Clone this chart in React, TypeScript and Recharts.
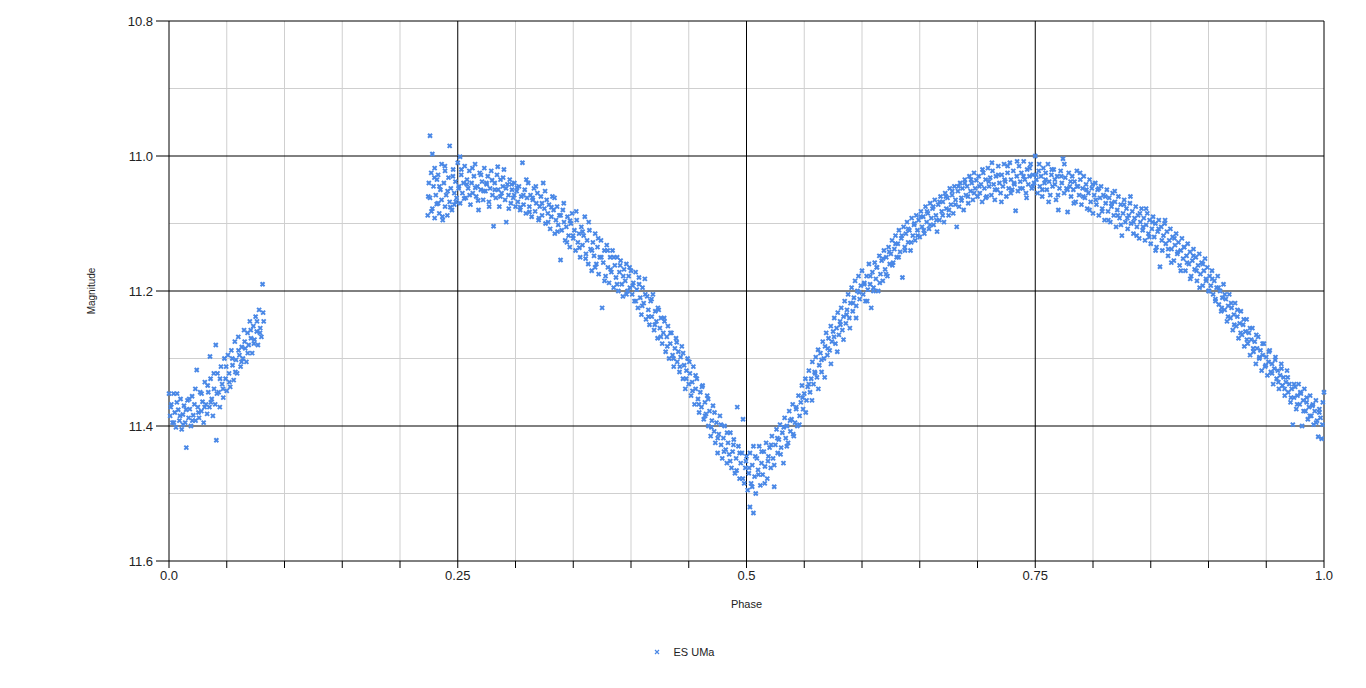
import React from 'react';
import { ScatterChart, Scatter, XAxis, YAxis, ReferenceLine, Legend } from 'recharts';

// Phase / magnitude readings of ES UMa
const segA: [number, number][] = [
  [0.000,11.352],[0.001,11.385],[0.002,11.368],[0.003,11.395],[0.004,11.352],[0.005,11.380],[0.006,11.402],[0.007,11.352],
  [0.008,11.376],[0.009,11.392],[0.010,11.360],[0.011,11.405],[0.012,11.383],[0.013,11.370],[0.014,11.395],[0.015,11.432],
  [0.016,11.362],[0.017,11.388],[0.018,11.375],[0.019,11.400],[0.020,11.356],[0.021,11.384],[0.022,11.368],[0.023,11.392],
  [0.024,11.317],[0.025,11.372],[0.026,11.388],[0.027,11.350],[0.028,11.378],[0.029,11.364],[0.030,11.395],[0.031,11.335],
  [0.032,11.368],[0.033,11.382],[0.034,11.350],[0.035,11.372],[0.0355,11.297],[0.036,11.330],[0.037,11.360],[0.038,11.385],
  [0.039,11.345],[0.040,11.368],[0.0405,11.280],[0.041,11.421],[0.042,11.322],[0.043,11.350],[0.044,11.372],[0.045,11.312],
  [0.046,11.338],[0.047,11.358],[0.048,11.300],[0.049,11.330],[0.050,11.348],[0.051,11.295],[0.052,11.322],[0.053,11.342],
  [0.054,11.288],[0.055,11.310],[0.056,11.332],[0.057,11.275],[0.058,11.302],[0.059,11.322],[0.060,11.268],[0.061,11.295],
  [0.062,11.312],[0.063,11.283],[0.064,11.300],[0.065,11.258],[0.066,11.285],[0.067,11.305],[0.068,11.262],[0.069,11.280],
  [0.070,11.245],[0.071,11.270],[0.072,11.292],[0.073,11.252],[0.074,11.272],[0.075,11.238],[0.076,11.260],[0.077,11.280],
  [0.078,11.228],[0.079,11.255],[0.080,11.268],[0.081,11.190],[0.082,11.245],
];

const segAExtra: [number, number][] = [
  [0.0015,11.372],[0.0042,11.395],[0.0068,11.365],[0.0095,11.385],[0.0122,11.398],[0.0148,11.376],[0.0175,11.360],[0.0202,11.392],
  [0.0228,11.345],[0.0255,11.380],[0.0282,11.352],[0.0308,11.372],[0.0335,11.340],[0.0362,11.365],[0.0388,11.322],[0.0415,11.352],
  [0.0442,11.330],[0.0468,11.345],[0.0495,11.312],[0.0522,11.335],[0.0548,11.300],[0.0575,11.320],[0.0602,11.288],[0.0628,11.305],
  [0.0655,11.275],[0.0682,11.292],[0.0708,11.258],[0.0735,11.278],[0.0762,11.245],[0.0788,11.262],[0.0815,11.232],
];

const segB1: [number, number][] = [
  [0.224,11.088],[0.225,11.040],[0.226,10.970],[0.226,11.062],[0.227,11.025],[0.228,10.997],[0.228,11.078],[0.229,11.045],
  [0.230,11.018],[0.230,11.092],[0.231,11.058],[0.232,11.035],[0.233,11.070],[0.233,11.028],[0.234,11.085],[0.235,11.050],
  [0.236,11.012],[0.236,11.065],[0.237,11.095],[0.238,11.040],[0.239,11.075],[0.239,11.022],[0.240,11.058],[0.241,11.088],
  [0.242,11.032],[0.243,10.985],[0.243,11.068],[0.244,11.048],[0.245,11.080],[0.246,11.020],[0.247,11.055],[0.247,11.072],
  [0.248,11.038],[0.249,11.062],[0.250,11.010],[0.251,11.045],[0.252,11.001],[0.252,11.070],[0.253,11.028],[0.254,11.055],
  [0.255,11.040],[0.256,11.015],[0.257,11.062],[0.258,11.035],[0.259,11.048],[0.260,11.022],[0.261,11.072],[0.262,11.040],
  [0.263,11.055],[0.264,11.030],[0.265,11.012],[0.266,11.060],[0.267,11.045],[0.268,11.080],[0.269,11.025],[0.270,11.050],
  [0.271,11.038],[0.272,11.065],[0.273,11.018],[0.274,11.052],[0.275,11.042],[0.276,11.030],[0.277,11.068],[0.278,11.048],
  [0.279,11.022],[0.280,11.058],[0.281,11.104],[0.282,11.040],[0.283,11.062],[0.284,11.028],[0.285,11.050],[0.286,11.075],
  [0.287,11.035],[0.288,11.055],[0.289,11.045],[0.290,11.020],[0.291,11.065],[0.292,11.098],[0.293,11.042],[0.294,11.058],
  [0.295,11.035],[0.296,11.070],[0.297,11.050],[0.298,11.062],[0.299,11.040],[0.300,11.075],
];

const segB1Extra: [number, number][] = [
  [0.2245,11.060],[0.2272,11.082],[0.2298,11.032],[0.2318,11.071],[0.2341,11.045],[0.2367,11.090],[0.2389,11.015],[0.2412,11.052],
  [0.2436,11.076],[0.2458,11.030],[0.2483,11.068],[0.2507,11.048],[0.2531,11.020],[0.2556,11.063],[0.2579,11.042],[0.2603,11.058],
  [0.2627,11.018],[0.2652,11.047],[0.2676,11.066],[0.2701,11.028],[0.2724,11.052],[0.2748,11.040],[0.2772,11.075],[0.2797,11.036],
  [0.2821,11.050],[0.2846,11.016],[0.2869,11.060],[0.2893,11.032],[0.2918,11.048],[0.2942,11.078],[0.2966,11.042],[0.2989,11.058],
];

const segB2: [number, number][] = [
  [0.301,11.052],[0.302,11.068],[0.303,11.045],[0.304,11.080],[0.305,11.060],[0.306,11.010],[0.307,11.072],[0.308,11.050],
  [0.309,11.085],[0.310,11.062],[0.311,11.040],[0.312,11.075],[0.313,11.058],[0.314,11.090],[0.315,11.065],[0.316,11.048],
  [0.317,11.082],[0.318,11.070],[0.319,11.055],[0.320,11.095],[0.321,11.075],[0.322,11.060],[0.323,11.088],[0.324,11.040],
  [0.325,11.078],[0.326,11.100],[0.327,11.065],[0.328,11.085],[0.329,11.072],[0.330,11.108],[0.331,11.090],[0.332,11.060],
  [0.333,11.080],[0.334,11.115],[0.335,11.095],[0.336,11.075],[0.337,11.102],[0.338,11.088],[0.339,11.154],[0.340,11.110],
  [0.341,11.080],[0.342,11.098],[0.343,11.125],[0.344,11.105],[0.345,11.090],[0.346,11.118],[0.347,11.135],[0.348,11.100],
  [0.349,11.085],[0.350,11.122],[0.351,11.110],[0.352,11.140],[0.353,11.095],[0.354,11.128],[0.355,11.115],[0.356,11.150],
  [0.357,11.105],[0.358,11.132],[0.359,11.118],[0.360,11.090],[0.361,11.145],[0.362,11.125],[0.363,11.160],[0.364,11.110],
  [0.365,11.138],[0.366,11.170],[0.367,11.128],[0.368,11.148],[0.369,11.115],[0.370,11.160],[0.371,11.135],[0.372,11.175],
  [0.373,11.150],[0.374,11.125],[0.375,11.225],[0.376,11.158],[0.377,11.140],[0.378,11.178],[0.379,11.132],[0.380,11.165],
  [0.381,11.188],[0.382,11.150],[0.383,11.172],[0.384,11.140],[0.385,11.195],[0.386,11.162],[0.387,11.180],[0.388,11.150],
  [0.389,11.200],[0.390,11.172],[0.391,11.155],[0.392,11.190],[0.393,11.208],[0.394,11.168],[0.395,11.185],[0.396,11.160],
  [0.397,11.200],[0.398,11.178],[0.399,11.195],[0.400,11.170],
];

const segB2Extra: [number, number][] = [
  [0.3013,11.047],[0.3041,11.076],[0.3068,11.058],[0.3094,11.035],[0.3121,11.083],[0.3147,11.062],[0.3176,11.045],[0.3203,11.092],
  [0.3229,11.070],[0.3256,11.052],[0.3283,11.098],[0.3311,11.076],[0.3338,11.062],[0.3364,11.112],[0.3391,11.088],[0.3418,11.070],
  [0.3445,11.128],[0.3472,11.096],[0.3498,11.118],[0.3526,11.082],[0.3553,11.136],[0.3581,11.112],[0.3607,11.152],[0.3634,11.098],
  [0.3662,11.140],[0.3689,11.165],[0.3716,11.122],[0.3743,11.150],[0.3771,11.185],[0.3798,11.140],[0.3824,11.168],[0.3852,11.150],
  [0.3879,11.190],[0.3906,11.162],[0.3933,11.178],[0.3961,11.205],[0.3988,11.165],
];

const segB3: [number, number][] = [
  [0.401,11.205],[0.402,11.188],[0.403,11.215],[0.404,11.172],[0.405,11.198],[0.406,11.225],[0.407,11.190],[0.408,11.210],
  [0.409,11.235],[0.410,11.195],[0.411,11.218],[0.412,11.182],[0.413,11.242],[0.414,11.208],[0.415,11.228],[0.416,11.250],
  [0.417,11.215],[0.418,11.238],[0.419,11.205],[0.420,11.258],[0.421,11.230],[0.422,11.245],[0.423,11.270],[0.424,11.228],
  [0.425,11.255],[0.426,11.240],[0.427,11.278],[0.428,11.262],[0.429,11.245],[0.430,11.290],[0.431,11.268],[0.432,11.252],
  [0.433,11.300],[0.434,11.278],[0.435,11.262],[0.436,11.295],[0.437,11.312],[0.438,11.285],[0.439,11.270],[0.440,11.305],
  [0.441,11.290],[0.442,11.320],[0.443,11.298],[0.444,11.282],[0.445,11.330],[0.446,11.310],[0.447,11.345],[0.448,11.318],
  [0.449,11.300],[0.450,11.338],[0.451,11.322],[0.452,11.355],[0.453,11.335],[0.454,11.312],[0.455,11.368],[0.456,11.345],
  [0.457,11.330],[0.458,11.360],[0.459,11.380],[0.460,11.350],[0.461,11.372],[0.462,11.340],[0.463,11.390],[0.464,11.365],
  [0.465,11.382],[0.466,11.355],[0.467,11.400],[0.468,11.378],[0.469,11.415],[0.470,11.392],[0.471,11.370],[0.472,11.408],
  [0.473,11.425],[0.474,11.395],[0.475,11.440],[0.476,11.412],[0.477,11.385],[0.478,11.428],[0.479,11.448],[0.480,11.418],
  [0.481,11.400],[0.482,11.435],[0.483,11.455],[0.484,11.425],[0.485,11.442],[0.486,11.410],[0.487,11.462],[0.488,11.438],
  [0.489,11.420],[0.490,11.470],[0.491,11.448],[0.492,11.372],[0.493,11.430],[0.494,11.478],[0.495,11.455],[0.496,11.440],
  [0.497,11.390],[0.498,11.485],[0.499,11.462],[0.500,11.445],
];

const segB3Extra: [number, number][] = [
  [0.4015,11.192],[0.4042,11.215],[0.4069,11.180],[0.4097,11.222],[0.4124,11.205],[0.4151,11.238],[0.4178,11.212],[0.4206,11.250],
  [0.4233,11.225],[0.4259,11.268],[0.4287,11.240],[0.4314,11.282],[0.4341,11.262],[0.4368,11.300],[0.4396,11.276],[0.4423,11.312],
  [0.4451,11.292],[0.4478,11.330],[0.4505,11.305],[0.4532,11.348],[0.4559,11.325],[0.4587,11.368],[0.4614,11.342],[0.4641,11.385],
  [0.4668,11.360],[0.4696,11.402],[0.4723,11.380],[0.4751,11.418],[0.4778,11.398],[0.4805,11.438],[0.4832,11.410],[0.4859,11.452],
  [0.4887,11.428],[0.4914,11.466],[0.4941,11.440],[0.4968,11.478],[0.4995,11.452],
];

const segC1: [number, number][] = [
  [0.501,11.495],[0.502,11.470],[0.503,11.520],[0.503,11.440],[0.504,11.485],[0.505,11.458],[0.506,11.529],[0.506,11.430],
  [0.507,11.475],[0.508,11.500],[0.509,11.448],[0.510,11.465],[0.511,11.430],[0.512,11.488],[0.513,11.455],[0.514,11.472],
  [0.515,11.438],[0.516,11.460],[0.517,11.425],[0.518,11.478],[0.519,11.445],[0.520,11.432],[0.521,11.462],[0.522,11.415],
  [0.523,11.448],[0.524,11.490],[0.525,11.428],[0.526,11.405],[0.527,11.440],[0.528,11.420],[0.529,11.398],[0.530,11.432],
  [0.531,11.410],[0.532,11.455],[0.533,11.388],[0.534,11.418],[0.535,11.400],[0.536,11.425],[0.537,11.378],[0.538,11.408],
  [0.539,11.390],[0.540,11.368],[0.541,11.415],[0.542,11.395],[0.543,11.375],[0.544,11.400],[0.545,11.355],[0.546,11.385],
  [0.547,11.365],[0.548,11.340],[0.549,11.375],[0.550,11.352],[0.551,11.330],[0.552,11.362],[0.553,11.342],[0.554,11.318],
  [0.555,11.350],[0.556,11.330],[0.557,11.305],[0.558,11.338],[0.559,11.320],[0.560,11.298],[0.561,11.328],[0.562,11.287],
  [0.563,11.310],[0.564,11.292],[0.565,11.320],[0.566,11.275],[0.567,11.300],[0.568,11.282],[0.569,11.262],[0.570,11.295],
  [0.571,11.270],[0.572,11.288],[0.573,11.252],[0.574,11.275],[0.575,11.260],[0.576,11.240],[0.577,11.278],[0.578,11.255],
  [0.579,11.232],[0.580,11.265],[0.581,11.245],[0.582,11.225],[0.583,11.258],[0.584,11.238],[0.585,11.215],[0.586,11.248],
  [0.587,11.228],[0.588,11.205],[0.589,11.240],[0.590,11.218],[0.591,11.195],[0.592,11.230],[0.593,11.210],[0.594,11.185],
  [0.595,11.222],[0.596,11.200],[0.597,11.178],[0.598,11.212],[0.599,11.192],[0.600,11.170],
];

const segC1Extra: [number, number][] = [
  [0.5022,11.462],[0.5049,11.490],[0.5076,11.445],[0.5104,11.472],[0.5131,11.438],[0.5158,11.485],[0.5186,11.452],[0.5213,11.428],
  [0.5240,11.458],[0.5267,11.418],[0.5295,11.442],[0.5322,11.402],[0.5349,11.430],[0.5377,11.392],[0.5404,11.412],[0.5431,11.372],
  [0.5458,11.398],[0.5486,11.358],[0.5513,11.380],[0.5540,11.338],[0.5567,11.362],[0.5595,11.322],[0.5622,11.345],[0.5649,11.302],
  [0.5677,11.328],[0.5704,11.285],[0.5731,11.308],[0.5758,11.268],[0.5786,11.290],[0.5813,11.250],[0.5840,11.272],[0.5867,11.235],
  [0.5895,11.255],[0.5922,11.218],[0.5949,11.240],[0.5976,11.202],
];

const segC2: [number, number][] = [
  [0.601,11.205],[0.602,11.188],[0.603,11.215],[0.604,11.178],[0.605,11.198],[0.606,11.160],[0.607,11.190],[0.608,11.225],
  [0.609,11.172],[0.610,11.195],[0.611,11.158],[0.612,11.182],[0.613,11.165],[0.614,11.200],[0.615,11.148],[0.616,11.175],
  [0.617,11.155],[0.618,11.185],[0.619,11.140],[0.620,11.168],[0.621,11.150],[0.622,11.178],[0.623,11.135],[0.624,11.160],
  [0.625,11.145],[0.626,11.125],[0.627,11.158],[0.628,11.138],[0.629,11.118],[0.630,11.150],[0.631,11.130],[0.632,11.110],
  [0.633,11.142],[0.634,11.122],[0.635,11.180],[0.636,11.105],[0.637,11.135],[0.638,11.115],[0.639,11.098],[0.640,11.128],
  [0.641,11.110],[0.642,11.140],[0.643,11.092],[0.644,11.118],[0.645,11.102],[0.646,11.125],[0.647,11.088],[0.648,11.110],
  [0.649,11.095],[0.650,11.120],[0.651,11.082],[0.652,11.105],[0.653,11.090],[0.654,11.115],[0.655,11.075],[0.656,11.098],
  [0.657,11.085],[0.658,11.108],[0.659,11.070],[0.660,11.092],[0.661,11.078],[0.662,11.102],[0.663,11.065],[0.664,11.088],
  [0.665,11.112],[0.666,11.072],[0.667,11.095],[0.668,11.060],[0.669,11.082],[0.670,11.068],[0.671,11.098],[0.672,11.055],
  [0.673,11.078],[0.674,11.062],[0.675,11.088],[0.676,11.048],[0.677,11.072],[0.678,11.058],[0.679,11.085],[0.680,11.045],
  [0.681,11.065],[0.682,11.105],[0.683,11.052],[0.684,11.075],[0.685,11.040],[0.686,11.062],[0.687,11.048],[0.688,11.080],
  [0.689,11.035],[0.690,11.058],[0.691,11.045],[0.692,11.070],[0.693,11.030],[0.694,11.052],[0.695,11.040],[0.696,11.065],
  [0.697,11.025],[0.698,11.048],[0.699,11.036],[0.700,11.060],
];

const segC2Extra: [number, number][] = [
  [0.6018,11.190],[0.6045,11.215],[0.6072,11.178],[0.6099,11.200],[0.6127,11.165],[0.6154,11.188],[0.6181,11.152],[0.6208,11.175],
  [0.6236,11.142],[0.6263,11.162],[0.6290,11.130],[0.6317,11.150],[0.6345,11.118],[0.6372,11.140],[0.6399,11.108],[0.6426,11.128],
  [0.6454,11.100],[0.6481,11.118],[0.6508,11.090],[0.6535,11.110],[0.6563,11.082],[0.6590,11.102],[0.6617,11.075],[0.6644,11.095],
  [0.6672,11.068],[0.6699,11.088],[0.6726,11.060],[0.6753,11.080],[0.6781,11.052],[0.6808,11.072],[0.6835,11.045],[0.6862,11.066],
  [0.6890,11.040],[0.6917,11.060],[0.6944,11.035],[0.6971,11.055],
];

const segD1: [number, number][] = [
  [0.701,11.030],[0.702,11.055],[0.703,11.042],[0.704,11.068],[0.705,11.025],[0.706,11.048],[0.707,11.035],[0.708,11.060],
  [0.709,11.018],[0.710,11.045],[0.711,11.032],[0.712,11.058],[0.713,11.022],[0.714,11.042],[0.715,11.065],[0.716,11.030],
  [0.717,11.050],[0.718,11.015],[0.719,11.040],[0.720,11.055],[0.721,11.028],[0.722,11.045],[0.723,11.012],[0.724,11.038],
  [0.725,11.060],[0.726,11.025],[0.727,11.048],[0.728,11.010],[0.729,11.035],[0.730,11.050],[0.731,11.022],[0.732,11.042],
  [0.733,11.081],[0.734,11.030],[0.735,11.052],[0.736,11.015],[0.737,11.038],[0.738,11.025],[0.739,11.048],[0.740,11.008],
  [0.741,11.035],[0.742,11.055],[0.743,11.020],[0.744,11.042],[0.745,11.030],[0.746,11.012],[0.747,11.048],[0.748,11.028],
  [0.749,11.040],[0.750,11.000],[0.751,11.035],[0.752,11.055],[0.753,11.022],[0.754,11.045],[0.755,11.030],[0.756,11.060],
  [0.757,11.018],[0.758,11.040],[0.759,11.025],[0.760,11.050],[0.761,11.012],[0.762,11.038],[0.763,11.058],[0.764,11.028],
  [0.765,11.045],[0.766,11.020],[0.767,11.035],[0.768,11.065],[0.769,11.030],[0.770,11.080],[0.771,11.048],[0.772,11.022],
  [0.773,11.040],[0.774,11.004],[0.775,11.055],[0.776,11.032],[0.777,11.048],[0.778,11.083],[0.779,11.025],[0.780,11.045],
  [0.781,11.060],[0.782,11.030],[0.783,11.050],[0.784,11.038],[0.785,11.068],[0.786,11.022],[0.787,11.045],[0.788,11.058],
  [0.789,11.035],[0.790,11.072],[0.791,11.048],[0.792,11.030],[0.793,11.062],[0.794,11.042],[0.795,11.078],[0.796,11.055],
  [0.797,11.035],[0.798,11.068],[0.799,11.048],[0.800,11.085],
];

const segD1Extra: [number, number][] = [
  [0.7016,11.045],[0.7043,11.020],[0.7071,11.062],[0.7098,11.038],[0.7125,11.010],[0.7152,11.050],[0.7180,11.028],[0.7207,11.068],
  [0.7234,11.035],[0.7261,11.015],[0.7289,11.055],[0.7316,11.040],[0.7343,11.008],[0.7370,11.048],[0.7398,11.030],[0.7425,11.062],
  [0.7452,11.018],[0.7479,11.045],[0.7507,11.028],[0.7534,11.012],[0.7561,11.050],[0.7588,11.035],[0.7616,11.068],[0.7643,11.020],
  [0.7670,11.042],[0.7697,11.058],[0.7725,11.030],[0.7752,11.012],[0.7779,11.050],[0.7806,11.038],[0.7834,11.070],[0.7861,11.045],
  [0.7888,11.025],[0.7915,11.060],[0.7943,11.050],[0.7970,11.080],[0.7997,11.042],
];

const segD2: [number, number][] = [
  [0.801,11.058],[0.802,11.040],[0.803,11.072],[0.804,11.050],[0.805,11.088],[0.806,11.062],[0.807,11.045],[0.808,11.078],
  [0.809,11.058],[0.810,11.095],[0.811,11.070],[0.812,11.050],[0.813,11.082],[0.814,11.062],[0.815,11.098],[0.816,11.075],
  [0.817,11.055],[0.818,11.088],[0.819,11.068],[0.820,11.105],[0.821,11.080],[0.822,11.060],[0.823,11.092],[0.824,11.072],
  [0.825,11.118],[0.826,11.085],[0.827,11.065],[0.828,11.098],[0.829,11.078],[0.830,11.108],[0.831,11.088],[0.832,11.070],
  [0.833,11.100],[0.834,11.082],[0.835,11.115],[0.836,11.092],[0.837,11.075],[0.838,11.105],[0.839,11.088],[0.840,11.122],
  [0.841,11.098],[0.842,11.078],[0.843,11.110],[0.844,11.092],[0.845,11.125],[0.846,11.102],[0.847,11.085],[0.848,11.115],
  [0.849,11.095],[0.850,11.130],[0.851,11.108],[0.852,11.090],[0.853,11.120],[0.854,11.100],[0.855,11.135],[0.856,11.112],
  [0.857,11.095],[0.858,11.164],[0.859,11.105],[0.860,11.140],[0.861,11.118],[0.862,11.100],[0.863,11.130],[0.864,11.112],
  [0.865,11.148],[0.866,11.125],[0.867,11.108],[0.868,11.138],[0.869,11.120],[0.870,11.155],[0.871,11.132],[0.872,11.115],
  [0.873,11.145],[0.874,11.128],[0.875,11.162],[0.876,11.140],[0.877,11.122],[0.878,11.152],[0.879,11.135],[0.880,11.170],
  [0.881,11.148],[0.882,11.130],[0.883,11.160],[0.884,11.142],[0.885,11.178],[0.886,11.155],[0.887,11.138],[0.888,11.168],
  [0.889,11.150],[0.890,11.185],[0.891,11.162],[0.892,11.145],[0.893,11.175],[0.894,11.158],[0.895,11.192],[0.896,11.170],
  [0.897,11.152],[0.898,11.185],[0.899,11.165],[0.900,11.200],
];

const segD2Extra: [number, number][] = [
  [0.8024,11.065],[0.8051,11.048],[0.8079,11.082],[0.8106,11.060],[0.8133,11.095],[0.8160,11.070],[0.8188,11.052],[0.8215,11.088],
  [0.8242,11.102],[0.8269,11.072],[0.8297,11.092],[0.8324,11.060],[0.8351,11.098],[0.8378,11.118],[0.8406,11.085],[0.8433,11.105],
  [0.8460,11.078],[0.8487,11.120],[0.8515,11.098],[0.8542,11.140],[0.8569,11.108],[0.8596,11.125],[0.8624,11.095],[0.8651,11.138],
  [0.8678,11.158],[0.8705,11.122],[0.8733,11.142],[0.8760,11.170],[0.8787,11.135],[0.8814,11.158],[0.8842,11.182],[0.8869,11.148],
  [0.8896,11.170],[0.8923,11.195],[0.8951,11.160],[0.8978,11.182],
];

const segD3: [number, number][] = [
  [0.901,11.178],[0.902,11.192],[0.903,11.170],[0.904,11.205],[0.905,11.185],[0.906,11.215],[0.907,11.195],[0.908,11.178],
  [0.909,11.220],[0.910,11.200],[0.911,11.230],[0.912,11.210],[0.913,11.190],[0.914,11.228],[0.915,11.212],[0.916,11.245],
  [0.917,11.222],[0.918,11.205],[0.919,11.240],[0.920,11.225],[0.921,11.258],[0.922,11.235],[0.923,11.218],[0.924,11.252],
  [0.925,11.238],[0.926,11.270],[0.927,11.248],[0.928,11.230],[0.929,11.265],[0.930,11.250],[0.931,11.282],[0.932,11.260],
  [0.933,11.242],[0.934,11.278],[0.935,11.262],[0.936,11.295],[0.937,11.272],[0.938,11.255],[0.939,11.290],[0.940,11.275],
  [0.941,11.308],[0.942,11.285],[0.943,11.268],[0.944,11.300],[0.945,11.288],[0.946,11.318],[0.947,11.295],[0.948,11.278],
  [0.949,11.312],[0.950,11.298],[0.951,11.325],[0.952,11.305],[0.953,11.288],[0.954,11.320],[0.955,11.308],[0.956,11.338],
  [0.957,11.315],[0.958,11.298],[0.959,11.330],[0.960,11.318],[0.961,11.345],[0.962,11.325],[0.963,11.308],[0.964,11.340],
  [0.965,11.328],[0.966,11.355],[0.967,11.335],[0.968,11.318],[0.969,11.350],[0.970,11.338],[0.971,11.365],[0.972,11.345],
  [0.973,11.398],[0.974,11.358],[0.975,11.342],[0.976,11.375],[0.977,11.355],[0.978,11.338],[0.979,11.368],[0.980,11.352],
  [0.981,11.400],[0.982,11.362],[0.983,11.345],[0.984,11.378],[0.985,11.365],[0.986,11.390],[0.987,11.372],[0.988,11.355],
  [0.989,11.385],[0.990,11.370],[0.991,11.398],[0.992,11.378],[0.993,11.362],[0.994,11.392],[0.995,11.416],[0.996,11.375],
  [0.997,11.388],[0.998,11.419],[0.999,11.365],[1.000,11.350],
];

const segD3Extra: [number, number][] = [
  [0.9005,11.200],[0.9032,11.182],[0.9060,11.212],[0.9087,11.195],[0.9114,11.225],[0.9141,11.205],[0.9169,11.238],[0.9196,11.218],
  [0.9223,11.250],[0.9250,11.228],[0.9278,11.262],[0.9305,11.242],[0.9332,11.272],[0.9359,11.255],[0.9387,11.285],[0.9414,11.265],
  [0.9441,11.298],[0.9468,11.278],[0.9496,11.310],[0.9523,11.290],[0.9550,11.322],[0.9577,11.302],[0.9605,11.335],[0.9632,11.315],
  [0.9659,11.345],[0.9686,11.328],[0.9714,11.358],[0.9741,11.338],[0.9768,11.368],[0.9795,11.350],[0.9823,11.378],[0.9850,11.358],
  [0.9877,11.385],[0.9904,11.368],[0.9932,11.395],[0.9959,11.380],[0.9986,11.398],
];

const xTicks = [0, 0.05, 0.1, 0.15, 0.2, 0.25, 0.3, 0.35, 0.4, 0.45, 0.5, 0.55, 0.6, 0.65, 0.7, 0.75, 0.8, 0.85, 0.9, 0.95, 1.0];
const xTickLabels: Record<string, string> = { '0': '0.0', '0.25': '0.25', '0.5': '0.5', '0.75': '0.75', '1': '1.0' };
const yTicks = [10.8, 11.0, 11.2, 11.4, 11.6];
const minorX = [0.05, 0.1, 0.15, 0.2, 0.3, 0.35, 0.4, 0.45, 0.55, 0.6, 0.65, 0.7, 0.8, 0.85, 0.9, 0.95];
const minorY = [10.9, 11.1, 11.3, 11.5];
const majorX = [0.25, 0.5, 0.75, 1.0];
const majorY = [10.8, 11.0, 11.2, 11.4];

const seriesName = 'ES UMa';
const points = [
  ...segA, ...segAExtra, ...segB1, ...segB1Extra, ...segB2, ...segB2Extra, ...segB3, ...segB3Extra,
  ...segC1, ...segC1Extra, ...segC2, ...segC2Extra, ...segD1, ...segD1Extra, ...segD2, ...segD2Extra, ...segD3, ...segD3Extra,
].map(([phase, mag]) => ({ phase, mag }));

const COLOR = '#4a88e6';
const FONT = '"Liberation Sans", Arial, sans-serif';

const XMark = (props: any) => {
  const { cx, cy } = props;
  if (cx == null || cy == null) return null;
  const r = 2;
  return (
    <path
      d={`M${cx - r},${cy - r}L${cx + r},${cy + r}M${cx + r},${cy - r}L${cx - r},${cy + r}`}
      stroke={COLOR}
      strokeWidth={2}
      fill="none"
    />
  );
};

const LegendContent = () => (
  <div style={{ display: 'flex', justifyContent: 'center', alignItems: 'center', fontFamily: FONT, fontSize: 11, color: '#222' }}>
    <svg width={10} height={10} style={{ marginRight: 12 }}>
      <path d="M3,3L7,7M7,3L3,7" stroke={COLOR} strokeWidth={1.2} fill="none" />
    </svg>
    <span>{seriesName}</span>
  </div>
);

export default function App() {
  return (
    <div style={{ width: 1350, height: 672 }}>
      <ScatterChart width={1350} height={672} margin={{ top: 13, right: 34, bottom: 39, left: 0 }}>
        {minorX.map((v) => (
          <ReferenceLine key={'mx' + v} x={v} stroke="#cfcfcf" strokeWidth={1} />
        ))}
        {minorY.map((v) => (
          <ReferenceLine key={'my' + v} y={v} stroke="#cfcfcf" strokeWidth={1} />
        ))}
        {majorX.map((v) => (
          <ReferenceLine key={'MX' + v} x={v} stroke="#000" strokeWidth={1} />
        ))}
        {majorY.map((v) => (
          <ReferenceLine key={'MY' + v} y={v} stroke="#000" strokeWidth={1} />
        ))}
        <XAxis
          type="number"
          dataKey="phase"
          domain={[0, 1]}
          ticks={xTicks}
          interval={0}
          tickFormatter={(v: number) => xTickLabels[String(v)] ?? ''}
          height={80}
          tickSize={7}
          tickMargin={3}
          stroke="#000"
          tick={{ fill: '#222', fontSize: 13, fontFamily: FONT }}
          label={{ value: 'Phase', position: 'center', dy: 3, fill: '#222', fontSize: 11, fontFamily: FONT }}
        />
        <YAxis
          type="number"
          dataKey="mag"
          domain={[10.8, 11.6]}
          reversed
          ticks={yTicks}
          interval={0}
          tickFormatter={(v: number) => v.toFixed(1)}
          width={161}
          tickSize={13}
          tickMargin={3}
          stroke="#000"
          tick={{ fill: '#222', fontSize: 13, fontFamily: FONT }}
          label={{ value: 'Magnitude', angle: -90, position: 'center', dx: 3, fill: '#222', fontSize: 10, fontFamily: FONT }}
        />
        <Legend
          layout="horizontal"
          verticalAlign="middle"
          align="center"
          content={<LegendContent />}
          wrapperStyle={{ top: 638, left: 0, width: 1350 }}
        />
        <Scatter name={seriesName} data={points} shape={<XMark />} isAnimationActive={false} />
      </ScatterChart>
    </div>
  );
}
